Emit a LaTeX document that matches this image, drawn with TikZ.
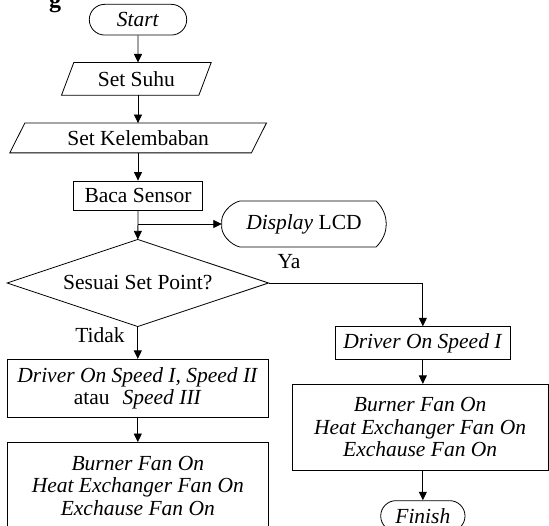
\documentclass[tikz,border=0pt]{standalone}
\usepackage{fontspec}
\setmainfont{Liberation Serif}
\usetikzlibrary{shapes.misc,arrows.meta}

\tikzset{
  base/.style={inner sep=0pt, font=\fontsize{21.5}{22.5}\selectfont, align=center},
  term/.style={base, draw, rounded rectangle, line width=0.8pt},
  proc/.style={base, draw, rectangle, line width=0.8pt},
  band/.style={base, rectangle},
  lbl/.style={inner sep=0pt, font=\fontsize{21.5}{22.5}\selectfont, anchor=base},
  arr/.style={line width=0.8pt, -{Triangle[length=8.5pt,width=8pt]}},
  outline/.style={line width=0.8pt}
}

\begin{document}
\begin{tikzpicture}[x=1pt,y=-1pt]
\path[use as bounding box, clip] (0,0) rectangle (549,526);

% heading fragment above the chart
\node[inner sep=0pt, anchor=base, font=\fontsize{24}{24}\selectfont\bfseries] (hd) at (55,7.5) {g};

% main column
\node[term, minimum width=97.4pt, minimum height=30.7pt] (start) at (138,19.7) {\textit{Start}};

\node[band, minimum width=137pt, minimum height=32.3pt] (suhu) at (136.35,78.85) {Set Suhu};
\draw[outline] ([xshift=6.15pt]suhu.north west) -- ([xshift=6.15pt]suhu.north east)
  -- ([xshift=-6.15pt]suhu.south east) -- ([xshift=-6.15pt]suhu.south west) -- cycle;

\node[band, minimum width=241.2pt, minimum height=29.4pt] (lembab) at (138.1,138) {Set Kelembaban};
\draw[outline] ([xshift=7.5pt]lembab.north west) -- ([xshift=7.5pt]lembab.north east)
  -- ([xshift=-7.5pt]lembab.south east) -- ([xshift=-7.5pt]lembab.south west) -- cycle;

\node[proc, minimum width=129.4pt, minimum height=29.7pt] (baca) at (138,195.85) {Baca Sensor};

% display symbol
\node[band, minimum width=164pt, minimum height=45.5pt] (disp) at (304,224) {\textit{Display} LCD};
\draw[outline] ([xshift=18pt]disp.north west) -- ([xshift=-10pt]disp.north east)
  .. controls +(7,7) and +(0,-8) .. (disp.east)
  .. controls +(0,8) and +(7,-7) .. ([xshift=-10pt]disp.south east)
  -- ([xshift=18pt]disp.south west)
  .. controls +(-9,-2) and +(-2,10) .. (disp.west)
  .. controls +(-2,-10) and +(-9,2) .. ([xshift=18pt]disp.north west) -- cycle;

% decision
\node[band, minimum width=261pt, minimum height=86.7pt] (dec) at (137.8,283) {Sesuai Set Point?};
\draw[outline] (dec.north) -- (dec.east) -- (dec.south) -- (dec.west) -- cycle;

% left branch
\node[proc, minimum width=261pt, minimum height=58.4pt] (drvL) at (137.8,388.5)
  {\textit{Driver On Speed I, Speed II}\\atau\hspace{0.6em}\textit{Speed III}};
\node[proc, minimum width=261pt, minimum height=86.4pt] (fanL) at (137.8,485.7)
  {\textit{Burner Fan On}\\\textit{Heat Exchanger Fan On}\\\textit{Exchause Fan On}};

% right branch
\node[proc, minimum width=175.7pt, minimum height=32.6pt] (drvR) at (422.85,343) {\textit{Driver On Speed I}};
\node[proc, minimum width=255.7pt, minimum height=86.4pt] (fanR) at (420.15,427.5)
  {\textit{Burner Fan On}\\\textit{Heat Exchanger Fan On}\\\textit{Exchause Fan On}};
\node[term, minimum width=84.3pt, minimum height=30.7pt] (finish) at (422.85,516) {\textit{Finish}};

% labels
\node[lbl] (ya) at (289,269) {Ya};
\node[lbl] (tidak) at (100,342.5) {Tidak};

% connectors
\coordinate (br) at (baca.south |- disp.west);
\draw[arr] (start) -- (start |- suhu.north);
\draw[arr] (start |- suhu.south) -- (start |- lembab.north);
\draw[arr] (start |- lembab.south) -- (baca.north);
\draw[arr] (baca.south) -- (dec.north);
\draw[arr] (br) -- (disp.west);
\draw[arr] (dec.east) -| (drvR.north);
\draw[arr] (dec.south) -- (drvL.north);
\draw[arr] (drvL.south) -- (fanL.north);
\draw[arr] (drvR.south) -- (drvR.south |- fanR.north);
\draw[arr] (drvR.south |- fanR.south) -- (finish.north);
\end{tikzpicture}
\end{document}
